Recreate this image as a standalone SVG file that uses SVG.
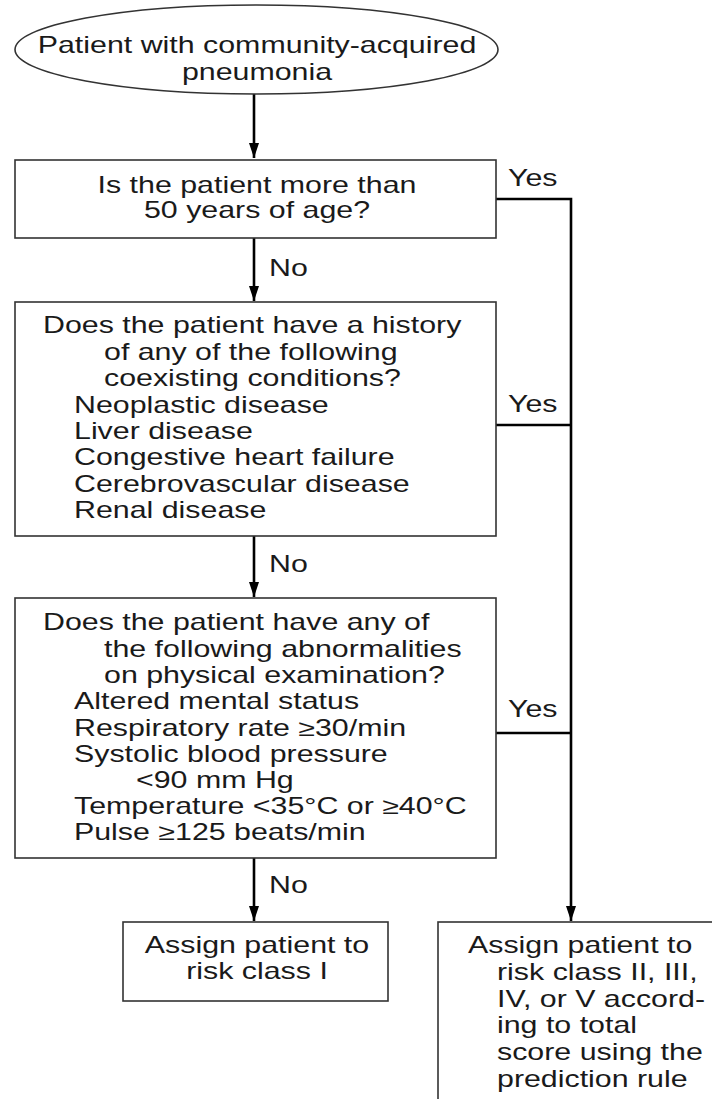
<svg xmlns="http://www.w3.org/2000/svg" width="712" height="1099" viewBox="0 0 712 1099">
<style>
.t{font-family:"Liberation Sans",Arial,Helvetica,sans-serif;font-size:23px;fill:#1a1a1a}
.c{text-anchor:middle}
.box{fill:#fff;stroke:#333;stroke-width:1.6}
.con{fill:none;stroke:#000;stroke-width:2.6}
</style>
<defs>
<marker id="ah" markerWidth="15" markerHeight="10" refX="15" refY="5" orient="auto" markerUnits="userSpaceOnUse" viewBox="0 0 15 10">
<path d="M0,0 L15,5 L0,10 Z" fill="#000"/>
</marker>
</defs>
<rect width="712" height="1099" fill="#fff"/>
<g id="connectors">
<line class="con" x1="254" y1="94" x2="254" y2="158" marker-end="url(#ah)"/>
<line class="con" x1="254" y1="238" x2="254" y2="301" marker-end="url(#ah)"/>
<line class="con" x1="254" y1="536" x2="254" y2="597" marker-end="url(#ah)"/>
<line class="con" x1="254" y1="858" x2="254" y2="921" marker-end="url(#ah)"/>
<polyline class="con" points="496,199 571,199 571,921" marker-end="url(#ah)"/>
<line class="con" x1="496" y1="425" x2="571" y2="425"/>
<line class="con" x1="496" y1="733" x2="571" y2="733"/>
<text class="t" transform="translate(508,186) scale(1.32,1)">Yes</text>
<text class="t" transform="translate(508,412) scale(1.32,1)">Yes</text>
<text class="t" transform="translate(508,717) scale(1.32,1)">Yes</text>
<text class="t" transform="translate(269,276) scale(1.32,1)">No</text>
<text class="t" transform="translate(269,572) scale(1.32,1)">No</text>
<text class="t" transform="translate(269,893) scale(1.32,1)">No</text>
</g>
<g id="start">
<ellipse class="box" cx="256.5" cy="49.5" rx="241.5" ry="44.5"/>
<text class="t c" transform="translate(257,53) scale(1.32,1)">Patient with community-acquired</text>
<text class="t c" transform="translate(257,80) scale(1.32,1)">pneumonia</text>
</g>
<g id="age">
<rect class="box" x="15" y="160" width="481" height="78"/>
<text class="t c" transform="translate(257,193) scale(1.32,1)">Is the patient more than</text>
<text class="t c" transform="translate(257,218) scale(1.32,1)">50 years of age?</text>
</g>
<g id="history">
<rect class="box" x="15" y="302" width="481" height="234"/>
<text class="t" transform="translate(43,333) scale(1.32,1)">Does the patient have a history</text>
<text class="t" transform="translate(104,360) scale(1.32,1)">of any of the following</text>
<text class="t" transform="translate(104,386) scale(1.32,1)">coexisting conditions?</text>
<text class="t" transform="translate(74,413) scale(1.32,1)">Neoplastic disease</text>
<text class="t" transform="translate(74,439) scale(1.32,1)">Liver disease</text>
<text class="t" transform="translate(74,465) scale(1.32,1)">Congestive heart failure</text>
<text class="t" transform="translate(74,492) scale(1.32,1)">Cerebrovascular disease</text>
<text class="t" transform="translate(74,518) scale(1.32,1)">Renal disease</text>
</g>
<g id="exam">
<rect class="box" x="15" y="598" width="481" height="260"/>
<text class="t" transform="translate(43,630) scale(1.32,1)">Does the patient have any of</text>
<text class="t" transform="translate(104,657) scale(1.32,1)">the following abnormalities</text>
<text class="t" transform="translate(104,683) scale(1.32,1)">on physical examination?</text>
<text class="t" transform="translate(74,709) scale(1.32,1)">Altered mental status</text>
<text class="t" transform="translate(74,736) scale(1.32,1)">Respiratory rate ≥30/min</text>
<text class="t" transform="translate(74,762) scale(1.32,1)">Systolic blood pressure</text>
<text class="t" transform="translate(136,788) scale(1.32,1)">&lt;90 mm Hg</text>
<text class="t" transform="translate(74,814) scale(1.32,1)">Temperature &lt;35°C or ≥40°C</text>
<text class="t" transform="translate(74,840) scale(1.32,1)">Pulse ≥125 beats/min</text>
</g>
<g id="class1">
<rect class="box" x="123" y="922" width="265" height="79"/>
<text class="t c" transform="translate(257,953) scale(1.32,1)">Assign patient to</text>
<text class="t c" transform="translate(257,979) scale(1.32,1)">risk class I</text>
</g>
<g id="class2to5">
<rect class="box" x="438" y="922" width="300" height="200"/>
<text class="t" transform="translate(468,953) scale(1.32,1)">Assign patient to</text>
<text class="t" transform="translate(497,980) scale(1.32,1)">risk class II, III,</text>
<text class="t" transform="translate(497,1007) scale(1.32,1)">IV, or V accord-</text>
<text class="t" transform="translate(497,1033) scale(1.32,1)">ing to total</text>
<text class="t" transform="translate(497,1060) scale(1.32,1)">score using the</text>
<text class="t" transform="translate(497,1087) scale(1.32,1)">prediction rule</text>
</g>
</svg>
